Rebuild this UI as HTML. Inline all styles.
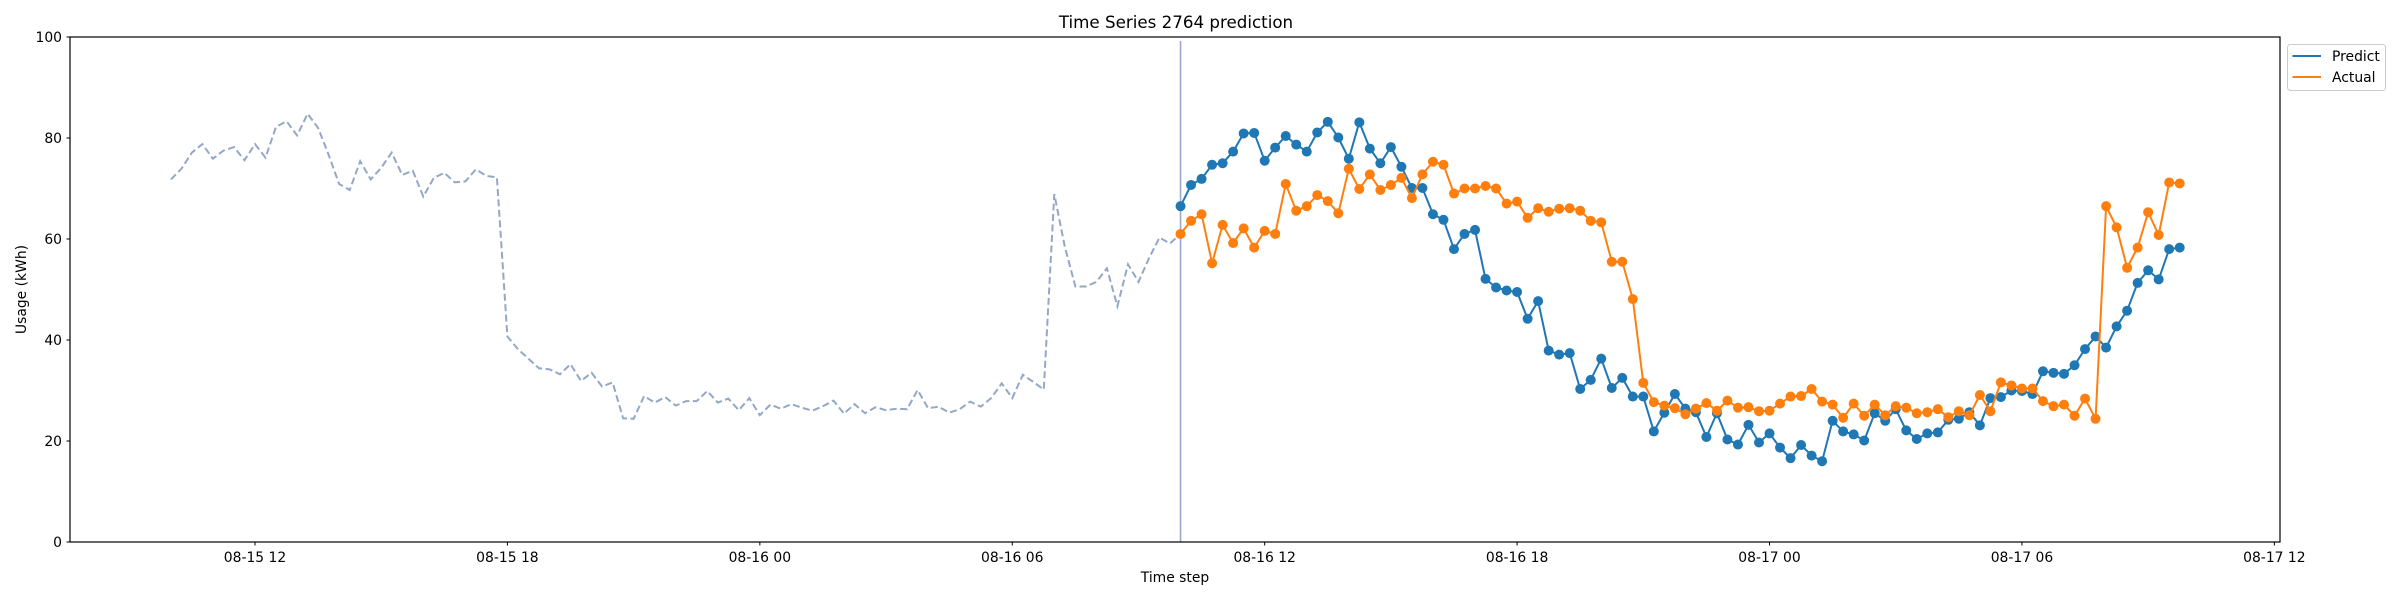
<!DOCTYPE html>
<html><head><meta charset="utf-8"><style>
html,body{margin:0;padding:0;background:#fff;}
svg{display:block;font-family:"DejaVu Sans","Liberation Sans",sans-serif;}
</style></head><body>
<svg id="chart" width="2400" height="600" viewBox="0 0 2400 600">
<rect x="0" y="0" width="2400" height="600" fill="#fff"/>
<text x="1176" y="28" text-anchor="middle" font-size="16.7" fill="#000">Time Series 2764 prediction</text>
<g id="plot"></g>
<rect x="70" y="37" width="2210" height="505" fill="none" stroke="#000" stroke-width="1.2"/>
<text x="1175" y="582" text-anchor="middle" font-size="13.9">Time step</text>
<text transform="translate(26,289.5) rotate(-90)" text-anchor="middle" font-size="13.9">Usage (kWh)</text>
<g>
<rect x="2287.5" y="44.5" width="98" height="46" rx="3" fill="#fff" stroke="#ccc" stroke-width="1"/>
<line x1="2292.5" y1="56" x2="2321" y2="56" stroke="#1f77b4" stroke-width="2"/>
<text x="2332" y="61" font-size="13.9">Predict</text>
<line x1="2292.5" y1="77" x2="2321" y2="77" stroke="#ff7f0e" stroke-width="2"/>
<text x="2332" y="82" font-size="13.9">Actual</text>
</g>
</svg>
<script>
const historyValues=[71.8,73.9,77.1,78.8,75.9,77.5,78.2,75.6,78.8,76.1,82.2,83.3,80.5,84.8,82.0,76.7,70.9,69.7,75.4,71.8,74.1,77.1,72.7,73.5,68.4,72.1,73.1,71.2,71.4,73.8,72.5,72.2,40.7,38.2,36.3,34.4,34.2,33.2,35.2,31.9,33.5,30.8,31.6,24.5,24.4,28.9,27.6,28.7,27.0,27.9,27.9,29.9,27.6,28.4,26.1,28.5,25.1,27.2,26.4,27.3,26.6,26.0,26.9,28.0,25.4,27.3,25.5,26.7,26.1,26.4,26.3,30.1,26.5,26.8,25.6,26.3,27.8,26.8,28.5,31.4,28.5,33.1,31.7,30.2,68.9,58.5,50.6,50.6,51.5,54.2,46.7,55.0,51.5,56.2,60.3,59.1,61.0];
const predictValues=[66.5,70.7,71.9,74.7,75.0,77.3,80.9,81.0,75.5,78.1,80.4,78.7,77.3,81.1,83.2,80.1,75.9,83.1,77.9,75.0,78.2,74.3,70.1,70.1,64.9,63.8,58.0,61.0,61.8,52.1,50.4,49.8,49.5,44.2,47.7,37.9,37.1,37.4,30.3,32.1,36.3,30.5,32.5,28.8,28.8,21.9,25.6,29.3,26.4,25.7,20.8,25.5,20.3,19.3,23.2,19.7,21.5,18.7,16.6,19.2,17.1,16.0,24.0,21.9,21.3,20.1,25.5,24.0,26.3,22.1,20.4,21.5,21.7,24.2,24.4,25.7,23.1,28.5,28.7,30.0,29.9,29.3,33.8,33.5,33.3,35.0,38.2,40.7,38.5,42.7,45.8,51.3,53.8,52.0,58.0,58.3];
const actualValues=[61.0,63.6,64.9,55.2,62.8,59.2,62.1,58.3,61.6,61.0,70.9,65.6,66.5,68.7,67.5,65.1,73.9,69.9,72.8,69.7,70.7,72.1,68.1,72.8,75.3,74.7,69.0,70.0,70.0,70.5,70.0,67.0,67.4,64.2,66.1,65.4,66.0,66.1,65.6,63.6,63.3,55.5,55.5,48.1,31.5,27.7,27.0,26.5,25.3,26.4,27.5,26.0,28.0,26.6,26.7,25.9,26.0,27.4,28.8,28.9,30.3,27.8,27.2,24.6,27.4,25.0,27.2,25.1,26.9,26.6,25.5,25.7,26.3,24.7,25.9,25.1,29.1,25.9,31.6,31.0,30.4,30.4,27.9,26.9,27.2,25.0,28.4,24.4,66.5,62.3,54.3,58.3,65.3,60.8,71.2,71.0];
const xTickLabels=["08-15 12","08-15 18","08-16 00","08-16 06","08-16 12","08-16 18","08-17 00","08-17 06","08-17 12"];
const xTickHours=[0,6,12,18,24,30,36,42,48];
const yTickValues=[0,20,40,60,80,100];
const historyStartHour=-2;
const forecastStartHour=22;
const stepHours=0.25;

const NS="http://www.w3.org/2000/svg";
const plot=document.getElementById('plot');
const svg=document.getElementById('chart');
function xScale(h){return 255+42.07*h;}
function yScale(v){return 542-5.05*v;}
function mk(tag,attrs,parent){const e=document.createElementNS(NS,tag);for(const k in attrs)e.setAttribute(k,attrs[k]);(parent||plot).appendChild(e);return e;}

yTickValues.forEach(v=>{
  const y=yScale(v);
  const t=mk('line',{x1:66.5,y1:y,x2:70,y2:y,stroke:'#000','stroke-width':1});
  
  
  const l=mk('text',{x:62,y:y+5,'text-anchor':'end','font-size':13.9},svg);
  l.textContent=String(v);
  
  
});
xTickHours.forEach((h,i)=>{
  const x=xScale(h);
  const t=mk('line',{x1:x,y1:542,x2:x,y2:545.5,stroke:'#000','stroke-width':1});
  
  
  const l=mk('text',{x:x,y:562,'text-anchor':'middle','font-size':13.9},svg);
  l.textContent=xTickLabels[i];
  
  
});

const vx=xScale(forecastStartHour);
const vl=mk('line',{x1:vx,y1:41,x2:vx,y2:542,stroke:'#9aa9cf','stroke-width':1.6});



function pts(vals,start){return vals.map((v,i)=>xScale(start+i*stepHours).toFixed(1)+','+yScale(v).toFixed(1)).join(' ');}
const hl=mk('polyline',{points:pts(historyValues,historyStartHour),fill:'none',stroke:'#92a8c6','stroke-width':2,'stroke-dasharray':'7,3.5'});



function series(vals,color,name){
  const g=mk('g',{});
  
  
  const pl=mk('polyline',{points:pts(vals,forecastStartHour),fill:'none',stroke:color,'stroke-width':2},g);
  
  
  vals.forEach((v,i)=>{
    const c=mk('circle',{cx:xScale(forecastStartHour+i*stepHours),cy:yScale(v),r:5,fill:color},g);
    
    
  });
}
series(predictValues,'#1f77b4','predict');
series(actualValues,'#ff7f0e','actual');
</script>
</body></html>
